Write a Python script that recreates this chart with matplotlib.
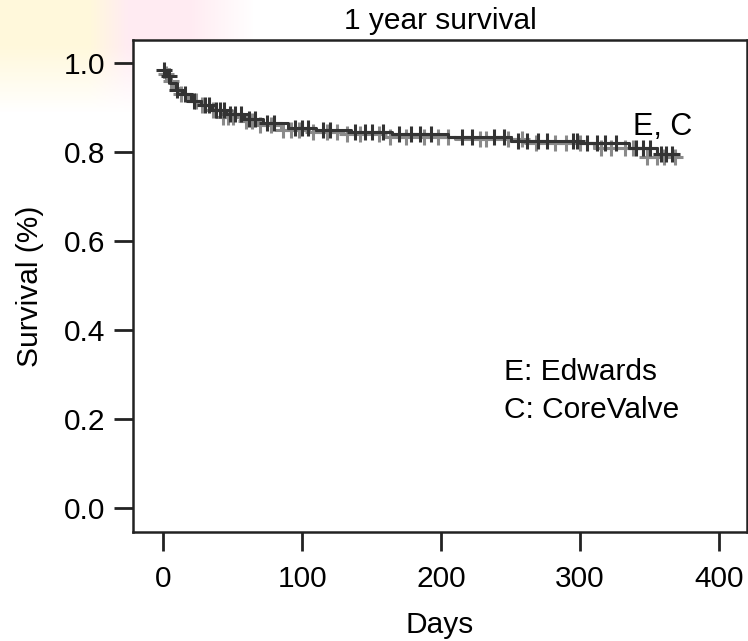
import numpy as np
import matplotlib
matplotlib.use("Agg")
import matplotlib.pyplot as plt

plt.rcParams['font.family'] = ['Liberation Sans', 'DejaVu Sans']

# Kaplan-Meier steps
edw_times = [0, 2, 5, 9, 14, 20, 27, 35, 45, 58, 72, 90, 110, 135, 165, 205, 250, 300, 335, 355, 370]
edw_surv = [0.985, 0.97, 0.955, 0.94, 0.93, 0.915, 0.905, 0.895, 0.885, 0.875, 0.865, 0.855,
            0.85, 0.845, 0.84, 0.835, 0.825, 0.82, 0.81, 0.795, 0.795]
cv_times = [0, 3, 7, 12, 18, 25, 33, 42, 55, 68, 85, 105, 128, 160, 210, 260, 310, 345, 370]
cv_surv = [0.975, 0.96, 0.945, 0.93, 0.915, 0.905, 0.895, 0.88, 0.87, 0.86, 0.85, 0.845,
           0.84, 0.835, 0.83, 0.82, 0.81, 0.79, 0.79]

# censored observations (days)
edw_cens = [1, 4, 10, 16, 22, 30, 33, 38, 41, 44, 48, 52, 56, 62, 66, 75, 80, 95, 100, 104,
            115, 120, 138, 145, 150, 158, 170, 178, 185, 193, 215, 222, 238, 245, 255, 262,
            270, 276, 295, 298, 305, 312, 318, 326, 340, 345, 350, 358, 362, 366]
cv_cens = [2, 6, 13, 24, 28, 36, 43, 47, 50, 60, 64, 70, 78, 86, 92, 98, 108, 118, 125, 132,
           142, 155, 163, 175, 188, 198, 205, 228, 232, 248, 258, 268, 282, 290, 300, 315,
           322, 332, 338, 348, 355, 360, 368]

fig = plt.figure(figsize=(7.48, 6.41), dpi=100)

# faint watermark in the top-left corner (yellow then pink)
bg = fig.add_axes([0, 0.82, 0.34, 0.18], zorder=-5)
nx, ny = 120, 30
xx = np.linspace(0, 1, nx)[None, :]
yy = np.linspace(0, 1, ny)[:, None]
grad = np.zeros((ny, nx, 4))
pink = np.clip((xx - 0.35) / 0.15, 0, 1)
grad[..., 0] = 1.0
grad[..., 1] = 0.95 - 0.10 * pink
grad[..., 2] = 0.72 + 0.18 * pink
fade_x = np.clip((1.0 - xx) / 0.25, 0, 1)
fade_y = np.clip((1.0 - yy) / 0.6, 0, 1)
grad[..., 3] = 0.5 * fade_x * fade_y
bg.imshow(grad, aspect='auto', extent=[0, 1, 0, 1], origin='upper')
bg.axis('off')

ax = fig.add_axes([133 / 748, 1 - 532 / 641, (747 - 133) / 748, (532 - 40) / 641])


def km_plot(times, surv, cens, color):
    ax.step(times, surv, where='post', color=color, lw=2.2)
    idx = np.searchsorted(times, cens, side='right') - 1
    ax.plot(cens, np.array(surv)[idx], ls='none', marker='+', ms=12, mew=2.2, color=color)


km_plot(cv_times, cv_surv, cv_cens, '#8a8a8a')
km_plot(edw_times, edw_surv, edw_cens, '#333333')

ax.set_xlim(-21.6, 420)
ax.set_ylim(-0.054, 1.052)
ax.set_xticks([0, 100, 200, 300, 400])
ax.set_yticks([0.0, 0.2, 0.4, 0.6, 0.8, 1.0])
ax.set_yticklabels(['0.0', '0.2', '0.4', '0.6', '0.8', '1.0'])
ax.tick_params(axis='both', length=14, width=2, labelsize=21.5, color='#222222')
ax.tick_params(axis='x', pad=10)
ax.tick_params(axis='y', pad=6)
for s in ax.spines.values():
    s.set_linewidth(1.8)
    s.set_color('#222222')

ax.set_title('1 year survival', fontsize=21.5, pad=8)
ax.set_xlabel('Days', fontsize=21.5, labelpad=13)
ax.set_ylabel('Survival (%)', fontsize=21.5, labelpad=14)

ax.text(338, 0.856, 'E, C', fontsize=22, va='center')
ax.text(245, 0.306, 'E: Edwards', fontsize=21.5, va='center')
ax.text(245, 0.22, 'C: CoreValve', fontsize=21.5, va='center')

fig.savefig('out.png', dpi=100)
